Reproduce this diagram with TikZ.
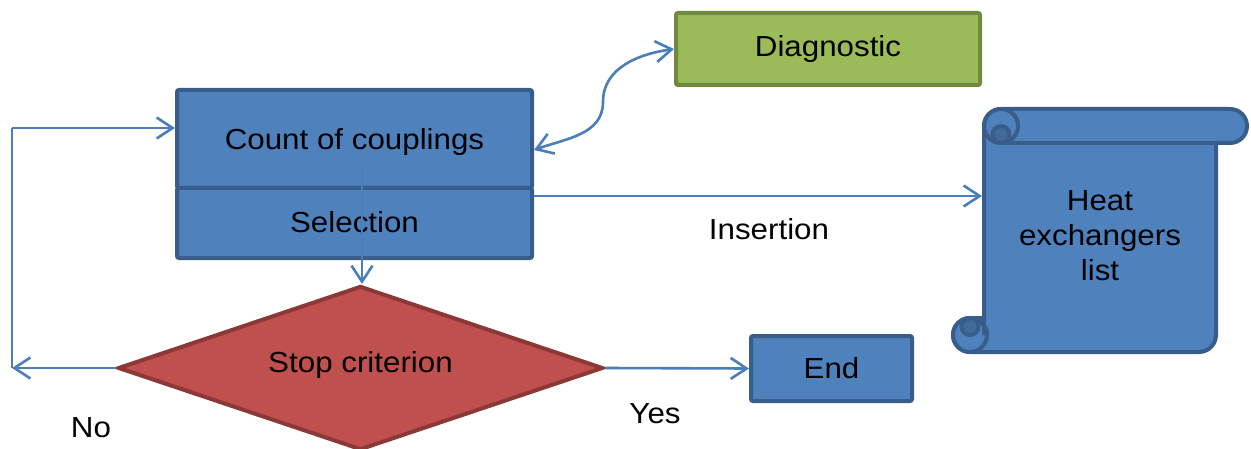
\documentclass[tikz,border=0pt]{standalone}
\usepackage{fontspec}
\setmainfont{Liberation Sans}[FakeStretch=1.08]
\usetikzlibrary{arrows.meta,shapes.geometric}

\definecolor{boxfill}{HTML}{4F81BD}
\definecolor{boxline}{HTML}{385D8A}
\definecolor{curlfill}{HTML}{41699A}
\definecolor{diagfill}{HTML}{9BBB59}
\definecolor{diagline}{HTML}{71893F}
\definecolor{stopfill}{HTML}{C0504D}
\definecolor{stopline}{HTML}{8C3836}
\definecolor{conn}{HTML}{4A7EBB}

\tikzset{
  every node/.style={font=\fontsize{29}{35}\selectfont, text=black},
  bluebox/.style={draw=boxline, fill=boxfill, line width=4pt, rounded corners=2pt,
    inner sep=0pt},
  greenbox/.style={draw=diagline, fill=diagfill, line width=4pt, rounded corners=2pt,
    inner sep=0pt},
  decision/.style={shape=diamond, draw=stopline, fill=stopfill, line width=4pt,
    inner sep=0pt, minimum width=485pt, minimum height=164pt},
  scrollshape/.style={draw=boxline, fill=boxfill, line width=4pt, line join=round},
  link/.style={draw=conn, line width=2.6pt,
    arrows={-Straight Barb[length=16pt, width=21pt]}},
  biglink/.style={draw=conn, line width=2.6pt,
    arrows={Straight Barb[length=16pt, width=21pt]-Straight Barb[length=16pt, width=21pt]}},
  plain/.style={draw=conn, line width=2.6pt},
}

\begin{document}
\begin{tikzpicture}[x=1pt, y=1pt]
\useasboundingbox (0,0) rectangle (1251,448);

% process boxes
\node[bluebox, minimum width=355pt, minimum height=98pt] (cnt) at (354.5,309) {};
\node[bluebox, minimum width=355pt, minimum height=70pt] (sel) at (354.5,225) {};
\node at (354.5,306) {Count of couplings};
\node at (354.5,226) {Selection};

\node[greenbox, minimum width=304pt, minimum height=72pt] (diag) at (828,399) {Diagnostic};
\node[bluebox, minimum width=161pt, minimum height=65pt] (end) at (831.5,79.5) {End};

% decision
\node[decision] (stop) at (360.5,80) {};
\node at (360.5,83) {Stop criterion};

% scroll: outline of roll and sheet
\path[scrollshape] (1001,339) -- (1230,339) arc[start angle=90, end angle=-90, radius=17]
  -- (1216,305) -- (1216,113) arc[start angle=0, end angle=-90, radius=17]
  -- (970,96) arc[start angle=-90, end angle=-270, radius=17]
  -- (984,130) -- (984,322) arc[start angle=180, end angle=90, radius=17] -- cycle;
\draw[boxline, line width=4pt] (1001,305) -- (1216,305);
% upper curl
\path[scrollshape] (1001,322) circle[radius=17];
\path[scrollshape, fill=curlfill] (1001,313.5) circle[radius=8.5];
% lower curl
\path[scrollshape] (970,113) circle[radius=17];
\path[scrollshape, fill=curlfill] (970,121.5) circle[radius=8.5];
\draw[boxline, line width=4pt] (984,130) -- (984,113);
\node[align=center, font=\fontsize{29}{35}\selectfont] (list) at (1100,212)
  {Heat\\exchangers\\list};
\coordinate (listin) at (982,252);

% connectors
\draw[biglink] ([yshift=-11pt]cnt.east) to[out=20, in=-90] (603,346)
  to[out=90, in=188] (diag.west);

\coordinate (loopdown) at (12,80);
\coordinate (loopup) at (12,320);
\draw[link] (stop.west) -- (loopdown);
\draw[plain] (loopdown) -- (loopup);
\draw[link] (loopup) -- (cnt.west |- loopup);

\coordinate (drop) at (362,281);
\draw[link] (drop) -- (stop.north -| drop);

\draw[link] (sel.east |- listin) -- (listin);
\draw[link] (stop.east) -- (end.west);

% branch labels
\node at (769,219) {Insertion};
\node at (655,34) {Yes};
\node at (91,20) {No};
\end{tikzpicture}
\end{document}
